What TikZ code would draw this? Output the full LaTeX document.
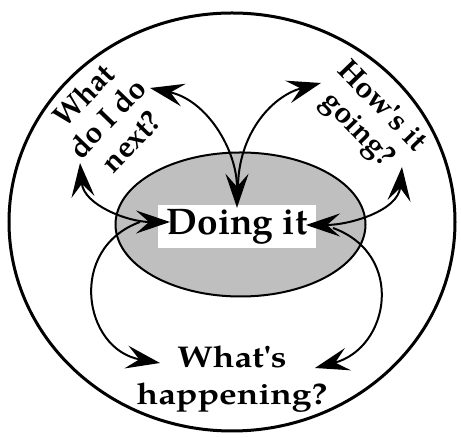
\documentclass[tikz,border=0pt]{standalone}
\usepackage{fontspec}
\setmainfont{texgyrepagella}[Extension=.otf,UprightFont=*-regular,BoldFont=*-bold]
\newfontfamily\wideface{texgyrepagella}[Extension=.otf,UprightFont=*-bold,FakeStretch=1.18]
\usetikzlibrary{arrows.meta}
\begin{document}
\begin{tikzpicture}[x=1pt,y=1pt,
	tip/.tip={Stealth[length=34pt,width=23pt,inset=13pt]},
	arr/.style={line width=2pt,-tip},
	dbl/.style={line width=2pt,tip-tip},
	lbl/.style={font=\bfseries\fontsize{30}{33}\selectfont,align=center,inner sep=0pt}]
	\useasboundingbox (0,0) rectangle (461,438);
	\draw[line width=3pt] (232,216) ellipse (223 and 209);
	\draw[line width=2pt,fill=gray!50] (240.5,213.5) ellipse (125 and 72);
	\node[fill=white,minimum width=158pt,minimum height=43pt,inner sep=0pt,
		font=\fontsize{37}{42}\selectfont\bfseries] (doing) at (237,211.5) {Doing it};
	% labels
	\node[lbl,rotate=46] (next) at (107,320) {What\\do I do\\next?};
	\node[lbl,rotate=-46] (going) at (369,319) {How\textquotesingle s it\\going?};
	\node[lbl,font=\wideface\fontsize{30}{37}\selectfont] (happen) at (232,58.5) {What\textquotesingle s\\happening?};
	% arrow ends
	\coordinate (nextTop) at (150,350);
	\coordinate (nextLow) at (80,275);
	\coordinate (goingTop) at (321,355);
	\coordinate (goingLow) at (402,271);
	\coordinate (fork) at (238,250);
	\coordinate (leftIn) at (170,216);
	\coordinate (rightIn) at (306,213);
	\coordinate (leftOut) at (140,216);
	\coordinate (rightOut) at (333,210);
	\coordinate (happenL) at (160,75);
	\coordinate (happenR) at (315,70);
	% arrows
	\draw[dbl] (nextTop) to[out=-12,in=90] ([yshift=-3pt]doing.north);
	\draw[arr] (fork) to[out=90,in=195] (goingTop);
	\draw[dbl] (nextLow) to[out=-85,in=180] (leftIn);
	\draw[dbl] (goingLow) to[out=-95,in=0] (rightIn);
	\draw[arr] (leftOut) to[out=200,in=170,looseness=1.4] (happenL);
	\draw[arr] (rightOut) to[out=-20,in=15,looseness=1.4] (happenR);
\end{tikzpicture}
\end{document}
